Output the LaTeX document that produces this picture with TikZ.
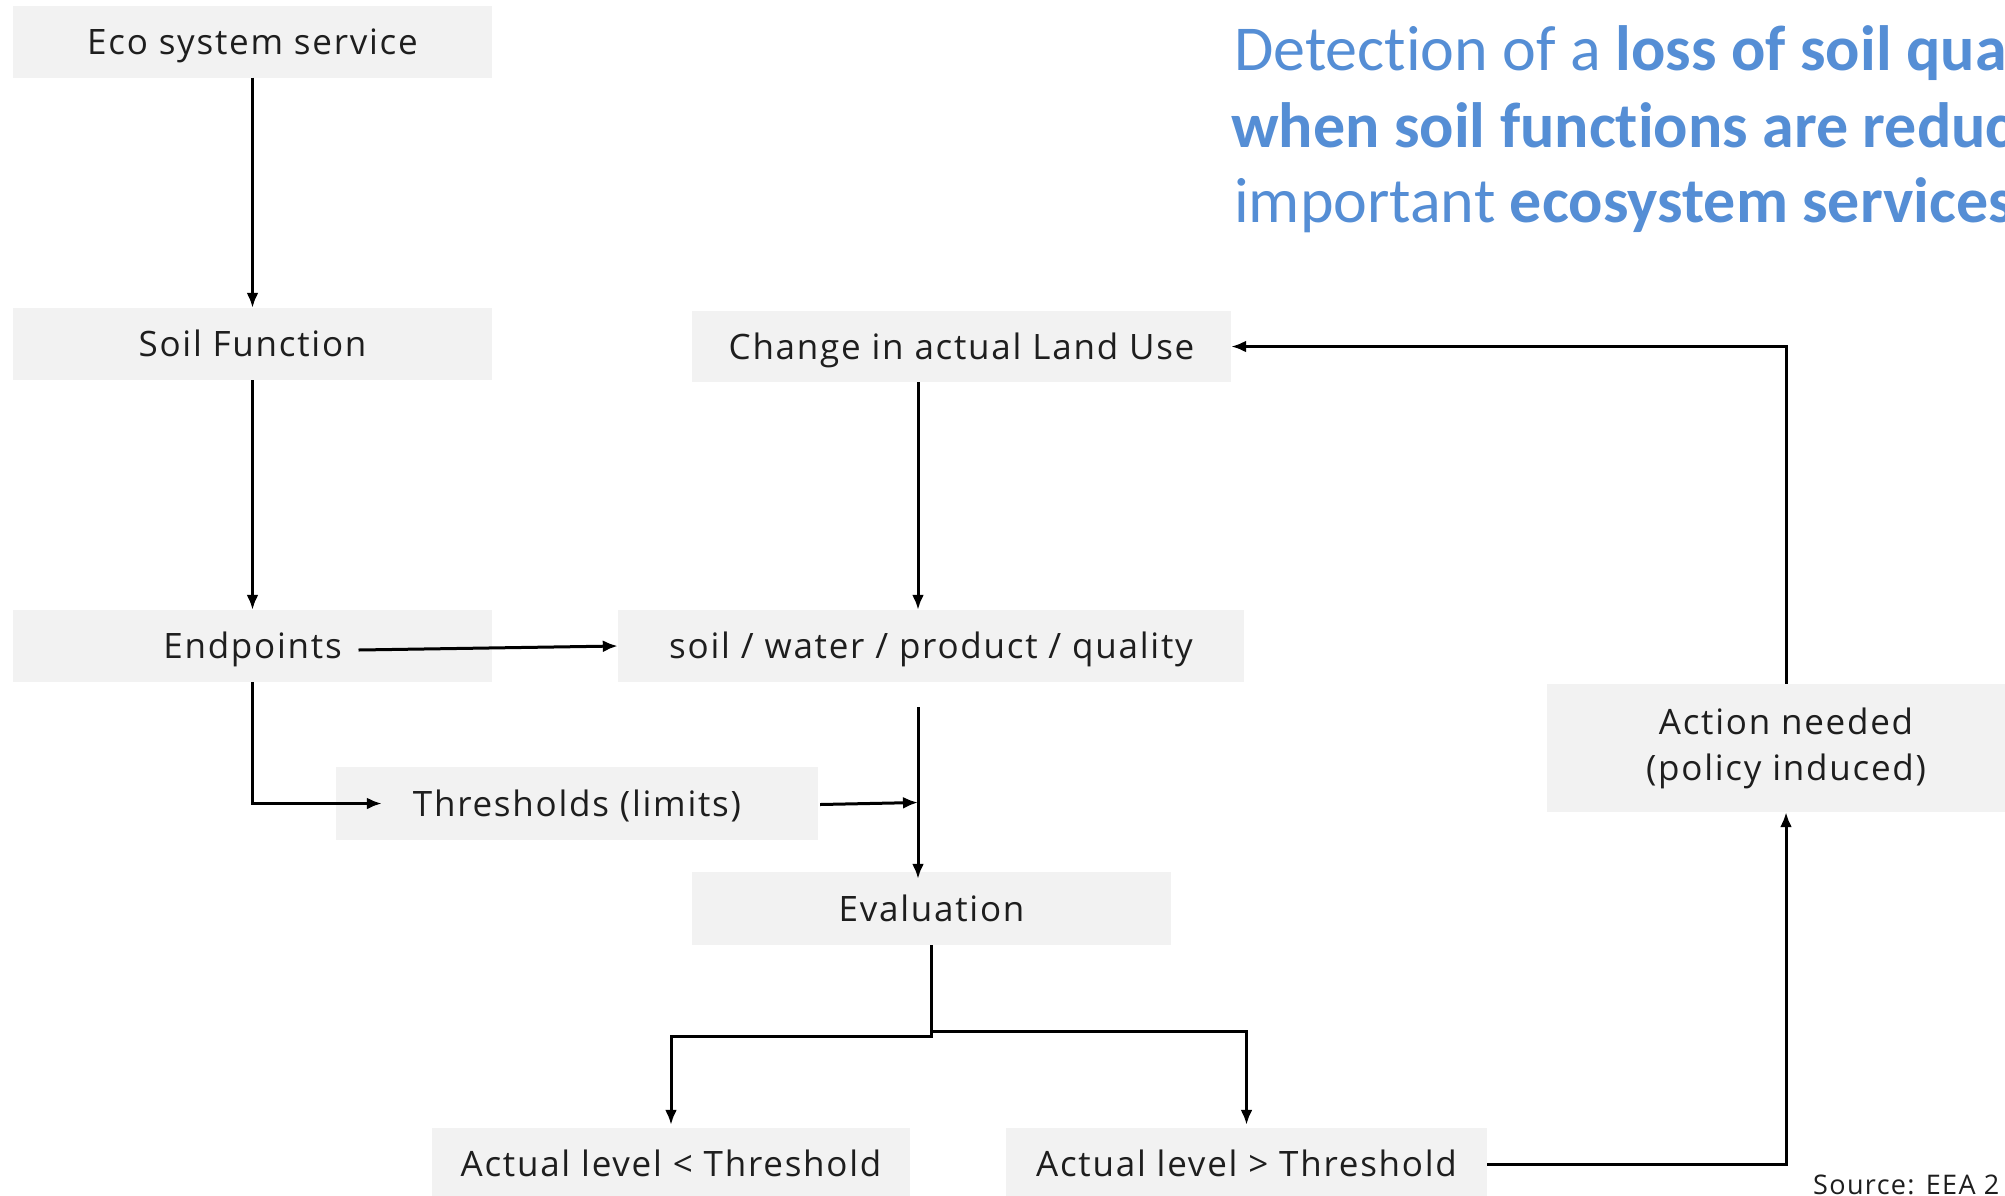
\documentclass[tikz,border=0pt]{standalone}
\usepackage{fontspec}
\setmainfont{Open Sans}[LetterSpace=5]
\newfontfamily\titlefont{Carlito}[Ligatures=NoCommon]
\usetikzlibrary{arrows.meta,calc}
\definecolor{boxgray}{RGB}{242,242,242}
\definecolor{titleblue}{RGB}{85,142,213}
\definecolor{txt}{RGB}{30,30,30}
\begin{document}
\begin{tikzpicture}[x=1pt,y=-1pt,
  box/.style={fill=boxgray, text=txt, minimum width=479pt, minimum height=72pt, inner sep=0pt, font=\fontsize{35}{46}\selectfont, align=center},
  onebox/.style={box, text height=25pt, text depth=0pt},
  conn/.style={line width=3pt, -{Latex[length=15pt,width=12pt]}},
  ttl/.style={anchor=base west, inner sep=0pt, text=titleblue, font=\titlefont\fontsize{64}{76}\selectfont}]
\useasboundingbox (0,0) rectangle (2005,1195);
\clip (0,0) rectangle (2005,1195);
\fill[white] (0,0) rectangle (2005,1195);

% boxes
\node[onebox] (eco) at (252.5,41.5) {Eco system service};
\node[onebox] (sf)  at (252.5,344) {Soil Function};
\node[onebox] (ep)  at (252.5,646) {Endpoints};
\node[onebox, minimum width=539pt, minimum height=71pt] (ch) at (961.5,346.5) {Change in actual Land Use};
\node[onebox, minimum width=626pt] (sw) at (931,646) {soil / water / product / quality};
\node[onebox, minimum width=482pt, minimum height=73pt] (th) at (577,803.5) {Thresholds (limits)};
\node[onebox, minimum height=73pt] (ev) at (931.5,908.5) {Evaluation};
\node[onebox, minimum width=478pt] (lt) at (671,1164) {Actual level < Threshold};
\node[onebox, minimum width=481pt] (gt) at (1246.5,1164) {Actual level > Threshold};
\node[box, minimum width=478pt, minimum height=128pt] (act) at (1786,748) {Action needed\\(policy induced)};

% title
\node[ttl] (t1) at (1234,70) {Detection of a \textbf{loss of soil quality}};
\node[ttl] (t2) at (1231,147) {\textbf{when soil functions are reduced}};
\node[ttl] (t3) at (1234,222) {important \textbf{ecosystem services}};
\node[anchor=base west, inner sep=0pt, text=txt, font=\fontsize{27}{32}\selectfont] (src) at (1813,1194) {Source: EEA 2};

% helper coordinates
\coordinate (vx) at (918,0);
\coordinate (epout) at ($(ep.center)+(106,4)$);

% connectors
\draw[conn] (eco.south) -- (sf.north);
\draw[conn] (sf.south) -- (ep.north);
\draw[conn] (epout) -- (sw.west);
\draw[conn] (ep.south) |- ($(th.west)+(46,0)$);
\draw[conn] (ch.south -| vx) -- (sw.north -| vx);
\draw[conn] ($(sw.south -| vx)+(0,25)$) -- ($(ev.north -| vx)+(0,7)$);
\draw[conn] ($(th.east)+(2,1)$) -- ($(vx |- th.east)+(0,-1)$);
\draw[conn] (ev.south) -- ++(0,91) -| ($(lt.north)+(0,-3)$);
\draw[conn] (ev.south) -- ++(0,86) -| ($(gt.north)+(0,-3)$);
\draw[conn] (gt.east) -| (act.south);
\draw[conn] (act.north) |- (ch.east);
\end{tikzpicture}
\end{document}
